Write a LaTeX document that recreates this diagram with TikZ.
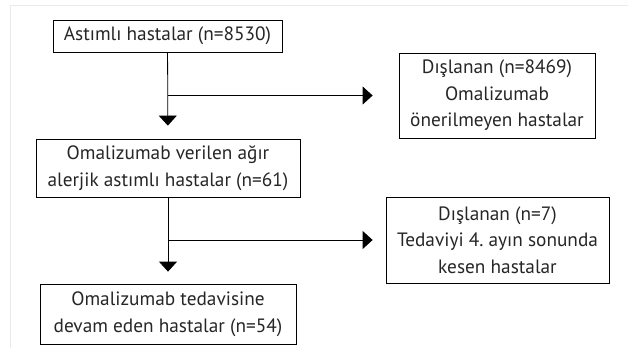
\documentclass[tikz,border=0pt]{standalone}
\usepackage{fontspec}
\setmainfont{PT Sans}
\usepackage{tikz}
\usetikzlibrary{arrows.meta}
\usetikzlibrary{positioning}
\frenchspacing

\begin{document}
\begin{tikzpicture}[x=1pt,y=-1pt,
    flowbox/.style={draw, line width=0.8pt, inner sep=0pt, align=center,
        text=black!85, font=\fontsize{19.3}{26.5}\selectfont},
    flowarrow/.style={line width=0.8pt, -{Triangle[width=18pt,length=10pt]}}]
\useasboundingbox (0,0) rectangle (628,348);

% light frame
\draw[black!8, line width=1pt] (628,5) -- (10,5) -- (10,348);

% left column
\node[flowbox, minimum width=229pt, minimum height=32pt] (astim) at (167.5,36) {Astımlı hastalar (n=8530)};
\node[flowbox, minimum width=264pt, minimum height=58pt] (omal) at (168,168) {Omalizumab verilen ağır\\alerjik astımlı hastalar (n=61)};
\node[flowbox, minimum width=256pt, minimum height=60pt] (devam) at (168,314) {Omalizumab tedavisine\\devam eden hastalar (n=54)};

% right column
\node[flowbox, minimum width=196pt, minimum height=85pt] (disla) at (497,95.5) {Dışlanan (n=8469)\\Omalizumab\\önerilmeyen hastalar};
\node[flowbox, minimum width=223pt, minimum height=86pt] (dislb) at (497.5,240) {Dışlanan (n=7)\\Tedaviyi 4. ayın sonunda\\kesen hastalar};

% branch points
\coordinate (bra) at (astim.south |- disla.west);
\coordinate (brb) at (omal.south |- dislb.west);

% arrows
\draw[flowarrow, shorten >=13pt] (astim) -- (omal);
\draw[flowarrow, shorten >=12pt] (omal) -- (devam);
\draw[flowarrow, shorten >=26pt] (bra) -- (disla.west);
\draw[flowarrow, shorten >=13pt] (brb) -- (dislb.west);

\end{tikzpicture}
\end{document}
